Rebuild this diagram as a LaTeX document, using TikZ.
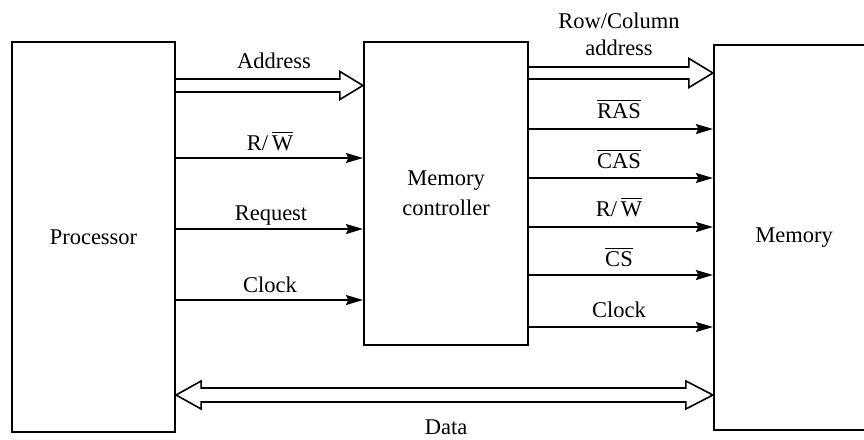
\documentclass[tikz,border=0pt]{standalone}
\usepackage{fontspec}
\setmainfont{Liberation Serif}
\usetikzlibrary{arrows.meta,calc}
\newcommand\ovl[1]{\leavevmode\vbox{\hrule height 1.3pt\kern 2.2pt\hbox{#1}}}
\newcommand\BusR[5]{\draw[bus] ($(#1)+(0,#3)$) -- ($(#2)+(-#4,#3)$) -- ($(#2)+(-#4,#5)$) -- (#2) -- ($(#2)+(-#4,-#5)$) -- ($(#2)+(-#4,-#3)$) -- ($(#1)+(0,-#3)$);}
\tikzset{
  blk/.style={draw, line width=2.2pt, inner sep=0pt, align=center,
    font=\fontsize{22.5}{30}\selectfont},
  sig/.style={line width=1.6pt, -{Stealth[length=17pt,width=10pt,inset=2.5pt]}},
  bus/.style={line width=1.6pt, line join=miter},
  lbl/.style={anchor=base, inner sep=0pt, align=center,
    font=\fontsize{22.5}{27}\selectfont},
}
\begin{document}
\begin{tikzpicture}[x=1pt,y=-1pt]
\useasboundingbox (0,0) rectangle (864,439);
\clip (0,0) rectangle (864,439);
% blocks
\node[blk, minimum width=163pt, minimum height=390pt] (proc) at (93.5,237) {Processor};
\node[blk, minimum width=164pt, minimum height=303pt] (ctrl) at (446,193.5) {Memory\\controller};
\node[blk, minimum width=160pt, minimum height=385pt] (mem) at (794,237.5) {Memory};
% processor -> controller
\path (proc.east |- 0,85.5) coordinate (adS) (ctrl.west |- 0,85.5) coordinate (adE);
\BusR{adS}{adE}{6.5}{23}{14}
\node[lbl] (lAddr) at (274,68) {Address};
\draw[sig] (proc.east |- 0,158) -- (ctrl.west |- 0,158);
\node[lbl] (lRW1) at (270,150) {R/\,\ovl{W}};
\draw[sig] (proc.east |- 0,229) -- (ctrl.west |- 0,229);
\node[lbl] (lReq) at (271,220) {Request};
\draw[sig] (proc.east |- 0,300) -- (ctrl.west |- 0,300);
\node[lbl] (lClk1) at (270,292) {Clock};
% controller -> memory
\path (ctrl.east |- 0,73) coordinate (rcS) (mem.west |- 0,73) coordinate (rcE);
\BusR{rcS}{rcE}{6}{24}{14.5}
\node[lbl] (lRC) at (619,55) {Row/Column\\address};
\draw[sig] (ctrl.east |- 0,129) -- (mem.west |- 0,129);
\node[lbl] (lRAS) at (619,118) {\ovl{RAS}};
\draw[sig] (ctrl.east |- 0,178) -- (mem.west |- 0,178);
\node[lbl] (lCAS) at (619,168) {\ovl{CAS}};
\draw[sig] (ctrl.east |- 0,227) -- (mem.west |- 0,227);
\node[lbl] (lRW2) at (619,216) {R/\,\ovl{W}};
\draw[sig] (ctrl.east |- 0,275) -- (mem.west |- 0,275);
\node[lbl] (lCS) at (619,266) {\ovl{CS}};
\draw[sig] (ctrl.east |- 0,327) -- (mem.west |- 0,327);
\node[lbl] (lClk2) at (619,317) {Clock};
% data bus
\path (proc.east |- 0,395) coordinate (dS) (mem.west |- 0,395) coordinate (dE);
\draw[bus] (dS) -- ($(dS)+(25,-14)$) -- ($(dS)+(25,-7)$) -- ($(dE)+(-27,-7)$) -- ($(dE)+(-27,-14)$) -- (dE)
  -- ($(dE)+(-27,14)$) -- ($(dE)+(-27,7)$) -- ($(dS)+(25,7)$) -- ($(dS)+(25,14)$) -- cycle;
\node[lbl] (lData) at (446,434) {Data};
\end{tikzpicture}
\end{document}
